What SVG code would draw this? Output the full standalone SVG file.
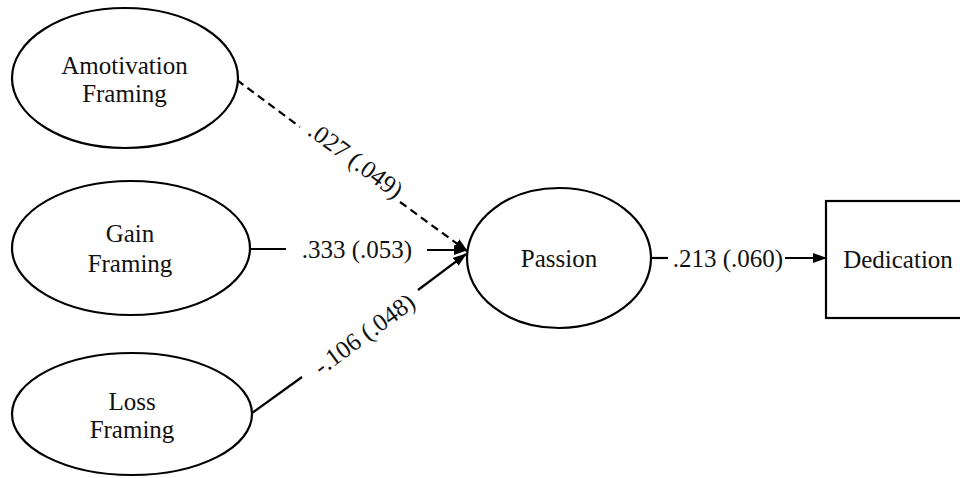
<svg xmlns="http://www.w3.org/2000/svg" width="960" height="478" viewBox="0 0 960 478">
<style>
.shape{fill:#fff;stroke:#000;stroke-width:2.2}
.t{font-family:"Liberation Serif","Times New Roman",serif;font-size:25px;fill:#111;text-anchor:middle}
.c{fill:none;stroke:#000;stroke-width:2.2}
.d{stroke-dasharray:8 5}
</style>
<defs>
<marker id="ah" markerUnits="userSpaceOnUse" markerWidth="14" markerHeight="10" refX="13" refY="5" orient="auto">
<path d="M0,0 L14,5 L0,10 Z" fill="#000"/>
</marker>
</defs>
<rect width="960" height="478" fill="#fff"/>
<g id="connectors">
<path class="c d" d="M237,80 L300,127"/>
<path class="c d" d="M400,202 L467,251" marker-end="url(#ah)"/>
<path class="c" d="M250,249 L286,249"/>
<path class="c" d="M427,250 L467,250" marker-end="url(#ah)"/>
<path class="c" d="M252,413 L302,377"/>
<path class="c" d="M418,290 L466,254" marker-end="url(#ah)"/>
<path class="c" d="M651,258 L668,258"/>
<path class="c" d="M785,258 L826,258" marker-end="url(#ah)"/>
<text class="t" x="356" y="160" dominant-baseline="central" transform="rotate(36.5 356 160)">.027 (.049)</text>
<text class="t" x="357" y="258">.333 (.053)</text>
<text class="t" x="364" y="334" dominant-baseline="central" transform="rotate(-36.3 364 334)">-.106 (.048)</text>
<text class="t" x="728" y="267">.213 (.060)</text>
</g>
<g id="amotivation">
<ellipse class="shape" cx="125" cy="78" rx="113" ry="70"/>
<text class="t" x="124.5" y="74">Amotivation</text>
<text class="t" x="124.5" y="102">Framing</text>
</g>
<g id="gain">
<ellipse class="shape" cx="131" cy="248" rx="119" ry="67"/>
<text class="t" x="130" y="242">Gain</text>
<text class="t" x="130" y="272">Framing</text>
</g>
<g id="loss">
<ellipse class="shape" cx="132" cy="414" rx="120" ry="61"/>
<text class="t" x="132" y="410">Loss</text>
<text class="t" x="132" y="438">Framing</text>
</g>
<g id="passion">
<ellipse class="shape" cx="559" cy="258" rx="92" ry="70"/>
<text class="t" x="559" y="267">Passion</text>
</g>
<g id="dedication">
<rect class="shape" x="826" y="201" width="140" height="117"/>
<text class="t" x="898" y="268">Dedication</text>
</g>
</svg>
